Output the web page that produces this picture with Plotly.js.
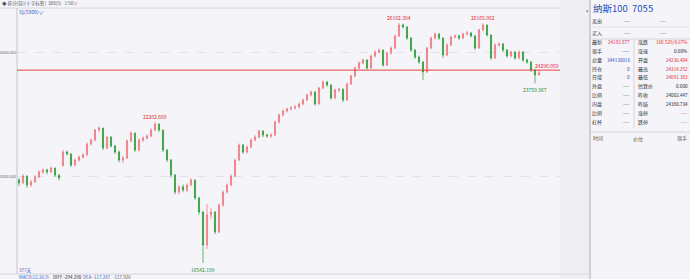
<!DOCTYPE html>
<html><head><meta charset="utf-8">
<script src="https://cdn.plot.ly/plotly-3.0.1.min.js"></script>
<style>html,body{margin:0;padding:0;background:#f5f5f9;}#chart{width:690px;height:279px;}</style>
</head><body><div id="chart"></div>
<script>
// ---- data ----
const openP = [19880,19760,20030,19680,19800,20000,20190,20280,20200,20350,20070,20450,21000,20920,20480,20680,20800,20890,21320,21480,
21880,21960,21160,21600,21240,21000,20680,20760,21440,21760,21080,21480,21560,21640,21880,22120,21880,21080,20680,20076,
19390,19600,19470,19680,19870,19150,18590,17264,18470,18590,17790,18870,19390,19680,20040,20680,21280,21000,21200,21480,
21600,21840,21680,21640,21680,22200,22490,22650,22730,22770,22810,22930,23090,23290,23410,22930,23570,23810,23690,23170,
23490,23520,23090,23730,24050,24370,24575,24696,24374,24856,25017,25097,24495,24977,25178,25660,26102,26021,25579,25097,
24816,24615,24214,25178,25579,25740,25579,24897,25298,25620,25660,25579,25740,25780,25660,25178,25901,26102,25700,24776,
25298,25339,25097,24856,25017,24776,25017,24696,24615,24294,24093];
const highP = [19950,20110,20060,19880,20070,20260,20350,20330,20420,20380,20110,21080,21060,20950,20740,20860,20960,21380,21540,21930,
22040,21980,21660,21640,21290,21060,20840,21500,21830,21780,21540,21630,21720,21950,22203,22160,21900,21120,20720,20120,
19680,19700,19740,19950,19900,19200,18620,18900,18760,18620,18930,19450,19740,20100,20740,21340,21320,21260,21540,21680,
21900,21880,21740,21760,22260,22540,22700,22790,22850,22880,22990,23150,23350,23470,23440,23620,23880,23860,23720,23550,
23580,23560,23790,24110,24430,24640,24760,24720,24920,25080,25160,25120,25040,25240,25720,26182,26160,26060,25620,25140,
24880,24660,25230,25640,25800,25780,25600,25360,25680,25730,25720,25800,25860,25820,25700,25960,26165,26130,25720,25360,
25400,25380,25140,25080,25060,25080,25060,24760,24660,24330,24314];
const lowP = [19640,19720,19560,19600,19760,19950,20120,20100,20150,20000,19860,20420,20860,20400,20430,20600,20730,20850,21260,21430,
21800,21080,21100,21180,20920,20580,20560,20720,21400,21000,21020,21400,21500,21600,21840,21800,21000,20600,19980,19300,
19300,19380,19400,19620,19080,18480,16542,17100,18300,17700,17740,18800,19330,19620,19990,20640,20920,20940,21150,21420,
21560,21600,21580,21560,21640,22150,22420,22580,22660,22700,22740,22880,23040,23230,22860,22900,23520,23620,23100,23120,
23400,23000,23050,23690,24000,24320,24520,24300,24330,24800,24960,24420,24450,24920,25130,25620,25960,25500,25020,24740,
24540,23892,24180,25130,25520,25500,24780,24850,25250,25560,25500,25530,25680,25600,25100,25140,25850,25640,24700,24730,
25240,25020,24780,24800,24700,24720,24620,24540,24220,23759,24081];
const closeP = [19755,20036,19675,19795,19996,20197,20277,20197,20357,20076,19956,21000,20920,20478,20679,20799,20880,21322,21482,21884,
21964,21161,21603,21241,21000,20679,20759,21442,21763,21080,21482,21563,21643,21884,22125,21884,21080,20679,20076,19393,
19594,19474,19675,19875,19152,18590,17264,18470,18590,17787,18871,19393,19675,20036,20679,21282,21000,21201,21482,21603,
21844,21683,21643,21683,22205,22487,22647,22727,22768,22808,22928,23089,23290,23410,22928,23571,23812,23692,23169,23491,
23520,23089,23732,24053,24374,24575,24696,24374,24856,25017,25097,24495,24977,25178,25660,26102,26021,25579,25097,24816,
24615,24214,25178,25579,25740,25579,24897,25298,25620,25660,25579,25740,25780,25660,25178,25901,26102,25700,24776,25298,
25339,25097,24856,25017,24776,25017,24696,24615,24294,24093,24183];
const refLine = 24290.059;
const gridVals = [20000, 25000];
const gridLabels = ['20000.000', '25000.000'];
const marks = [
  {i:34, v:22202.689, t:'22202.689', up:true},
  {i:95, v:26182.394, t:'26182.394', up:true},
  {i:116, v:26165.062, t:'26165.062', up:true},
  {i:46, v:16542.199, t:'16542.199', up:false},
  {i:129, v:23759.967, t:'23759.967', up:false}
];
const panelTitle = '纳斯100  7055';
const quoteLabels = ['卖出','买入'];
const leftLabels = ['最新','现手','总量','持仓','日增','外盘','比例','内盘','比例','杠杆'];
const leftValues = ['24182.877','——','344138016','0','0','----','----','----','----','----'];
const leftKinds  = ['r','b','b','b','b','d','d','d','d','d'];
const rightLabels = ['涨跌','涨速','开盘','最高','最低','估算价','昨收','昨结','涨停','跌停'];
const rightValues = ['160.529/0.67%','0.00%','24236.404','24314.252','24081.383','0.000','24002.447','24380.734','----','----'];
const rightKinds  = ['r','k','r','r','r','k','k','k','r','g'];
const tickHeader = ['时间','价位','现手'];
const daysText = '377天';
const macdParts = [['MACD(12,26,9)','#3a5bc7'],['DIFF -294.290','#222'],['DEA -117.287','#3a5bc7'],['-117.926','#555']];

// ---- layout helpers (pixel -> paper) ----
const L = 17, R = 560, T = 8, B = 270;
const W = R - L, H = B - T;
const px = x => (x - L) / W;
const py = y => (B - y) / H;
const FONT = 'Noto Sans CJK SC, Noto Sans, sans-serif';
const COL = {r:'#e3242b', b:'#2a45c0', d:'#333', k:'#222', g:'#1f9a2a'};
const ann = [];
function txt(t, x, y, size, color, anchor, extra) {
  ann.push(Object.assign({xref:'paper', yref:'paper', x:px(x), y:py(y), text:t, showarrow:false,
    xanchor:anchor||'left', yanchor:'middle', borderpad:0, font:{size:size, color:color, family:FONT}}, extra||{}));
}
const shapes = [];
function line(x0,y0,x1,y1,color,w){shapes.push({type:'line',xref:'paper',yref:'paper',x0:px(x0),y0:py(y0),x1:px(x1),y1:py(y1),line:{color:color,width:w||1}});}
function rect(x0,y0,x1,y1,fill){shapes.push({type:'rect',xref:'paper',yref:'paper',x0:px(x0),y0:py(y0),x1:px(x1),y1:py(y1),fillcolor:fill,line:{width:0},layer:'below'});}

const idx = closeP.map((_, i) => i);

// frame
rect(560,0,590,279,'#efeff3');
line(0,8,560,8,'#d6d6de',1);
line(17,8,17,274,'#c4c4cc',1);
line(0,274,560,274,'#d0d0d8',1);
line(590,0,590,279,'#cfcfd7',2);
line(560,274,590,274,'#d6d6de',1);
// ref line
shapes.push({type:'line',xref:'paper',yref:'y',x0:0,x1:1,y0:refLine,y1:refLine,line:{color:'#e0423c',width:1}});
ann.push({xref:'paper',yref:'y',x:1,y:refLine,text:refLine.toFixed(3),showarrow:false,xanchor:'right',yanchor:'bottom',borderpad:0,font:{size:5,color:'#e3242b',family:FONT}});
// grid labels
gridVals.forEach((v,k)=>ann.push({xref:'paper',yref:'y',x:px(16.5),y:v,text:gridLabels[k],showarrow:false,xanchor:'right',yanchor:'middle',borderpad:0,font:{size:3.6,color:'#666',family:FONT}}));
// high/low marks
marks.forEach(m=>ann.push({xref:'x',yref:'y',x:m.i,y:m.v,text:m.t,showarrow:false,xanchor:'center',yanchor:m.up?'bottom':'top',yshift:m.up?1:-2,borderpad:0,font:{size:5,color:m.up?'#e3242b':'#1f8a2a',family:FONT}}));
// toolbar
txt('◆ 拆分(前)(十字标签)  300(5)   1:50∨', 1, 4, 4.6, '#555');
txt('均(5800)∨', 18, 12, 5, '#3a5bc7');
txt(daysText, 18, 270, 4.5, '#3a5bc7');
let mx = 18;
macdParts.forEach((p,k)=>{ txt(p[0], mx, 277, 4.5, p[1]); mx += [34,30,30,20][k]; });

// right panel
txt(panelTitle, 592, 8, 9.5, '#2a50b8');
txt('▾', 585, 10, 5, '#888');
quoteLabels.forEach((t,k)=>{ const y=[21,33][k]; txt(t,591,y,5,'#333'); txt('----',632,y,4.5,'#333','right'); txt('----',668,y,4.5,'#333','right'); });
line(590,27,690,27,'#e0e0e6',1);
line(590,39,690,39,'#d4d4dc',1);
line(634,40,634,128,'#d4d4dc',1);
line(590,132,690,132,'#d4d4dc',1);
const rowsY = [42,51,60,69,77,86,95,104,113,122];
leftLabels.forEach((t,k)=>{ const y=rowsY[k]; txt(t,591,y,5,'#333'); txt(leftValues[k],631,y,4.6,COL[leftKinds[k]],'right'); });
rightLabels.forEach((t,k)=>{ const y=rowsY[k]; txt(t,637,y,5,'#333'); txt(rightValues[k],689,y,4.6,COL[rightKinds[k]],'right'); });
txt(tickHeader[0],592,138,5,'#555'); txt(tickHeader[1],638,138,5,'#555','center'); txt(tickHeader[2],688,138,5,'#555','right');

const trace = {
  type:'candlestick', x:idx, open:openP, high:highP, low:lowP, close:closeP,
  increasing:{line:{color:'#ec6a72',width:0.7}, fillcolor:'#f3a5ab'},
  decreasing:{line:{color:'#2a9a33',width:0.7}, fillcolor:'#2a9a33'},
  whiskerwidth:0, hoverinfo:'skip'
};
const layout = {
  width:690, height:279, margin:{l:L, r:690-R, t:T, b:279-B},
  paper_bgcolor:'#f5f5f9', plot_bgcolor:'#f5f5f9', showlegend:false, boxgap:0.6,
  xaxis:{range:[-0.5, -0.5 + W/4], showgrid:false, zeroline:false, showticklabels:false, showline:false, rangeslider:{visible:false}, fixedrange:true},
  yaxis:{range:[16260, 26785], tickvals:gridVals, showticklabels:false, gridcolor:'#e2e2ea', griddash:'dash', zeroline:false, showline:false, fixedrange:true},
  shapes:shapes, annotations:ann
};
Plotly.newPlot('chart',[trace],layout,{staticPlot:true, displayModeBar:false});
</script></body></html>
